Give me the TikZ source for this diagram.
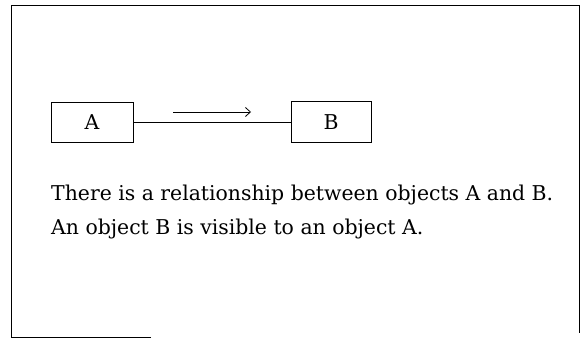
\documentclass[tikz,border=0pt]{standalone}
\usepackage{fontspec}
\setmainfont{DejaVu Serif}
\usetikzlibrary{arrows.meta}
\begin{document}
\begin{tikzpicture}[x=1pt, y=1pt, >={Straight Barb[length=5pt, width=9pt]}, font=\fontsize{20.4}{34}\selectfont,
        box/.style={draw, line width=0.8pt, inner sep=0pt},
        arr/.style={->, line width=0.8pt}]
      \useasboundingbox (0,0) rectangle (582,338);
      \draw[line width=0.9pt] (151,1) -- (11,1) -- (11,333) -- (579,333) -- (579,5);
      \node[box, minimum width=82pt, minimum height=40pt] (a) at (92,216) {A};
      \node[box, minimum width=80pt, minimum height=41pt] (b) at (331,216) {B};
      \draw[line width=0.8pt] (a) -- (b);
      \coordinate (from) at (173,226);
      \coordinate (to) at (251,226);
      \draw[arr] (from) -- (to);
      \node[anchor=base west, inner sep=0pt] (line1) at (51,137) {There is a relationship between objects A and B.};
      \node[anchor=base west, inner sep=0pt] (line2) at (51,103) {An object B is visible to an object A.};
    \end{tikzpicture}
\end{document}
